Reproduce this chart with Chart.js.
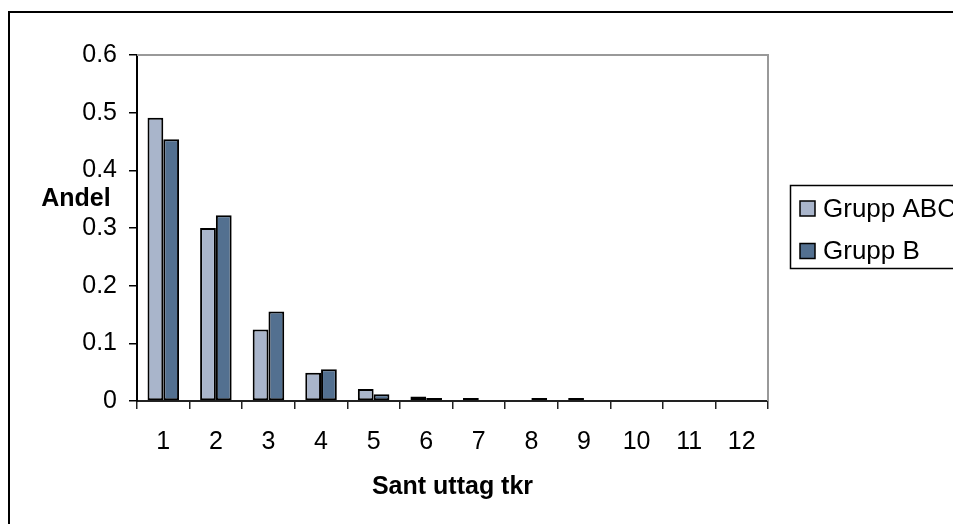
<!DOCTYPE html>
<html>
<head>
<meta charset="utf-8">
<script src="https://cdn.jsdelivr.net/npm/chart.js@4/dist/chart.umd.min.js"></script>
<style>
  html, body { margin: 0; padding: 0; background: #fff; }
  #wrap { width: 953px; height: 524px; position: relative; }
</style>
</head>
<body>
<div id="wrap"><canvas id="chart" width="953" height="524"></canvas></div>
<script>
// Chart data
const categories = ['1', '2', '3', '4', '5', '6', '7', '8', '9', '10', '11', '12'];
const grupABC = [0.491, 0.300, 0.124, 0.049, 0.021, 0.008, 0.005, 0, 0.005, 0, 0, 0];
const grupB = [0.454, 0.322, 0.155, 0.055, 0.0115, 0.005, 0, 0.005, 0, 0, 0, 0];
const seriesNames = ['Grupp ABC', 'Grupp B'];
const seriesColors = ['#a9b5cb', '#537090'];
const yTitle = 'Andel';
const xTitle = 'Sant uttag tkr';

const FONT = 'Arial, "Liberation Sans", sans-serif';
Chart.defaults.color = '#000';
Chart.defaults.font.family = FONT;

// Frame, plot border, "Andel" label and legend box
const decorations = {
    id: 'decorations',
    afterDraw(chart) {
        const ctx = chart.ctx;
        const area = chart.chartArea;
        ctx.save();
        // outer frame (runs off the right and bottom edges)
        ctx.strokeStyle = '#000';
        ctx.lineWidth = 2;
        ctx.beginPath();
        ctx.moveTo(9, 530);
        ctx.lineTo(9, 12);
        ctx.lineTo(960, 12);
        ctx.stroke();
        // gray top and right of plot area
        ctx.strokeStyle = '#999';
        ctx.lineWidth = 2;
        ctx.beginPath();
        ctx.moveTo(area.left, area.top);
        ctx.lineTo(area.right, area.top);
        ctx.lineTo(area.right, area.bottom);
        ctx.stroke();
        // y title, horizontal
        ctx.fillStyle = '#000';
        ctx.font = 'bold 25px ' + FONT;
        ctx.textAlign = 'center';
        ctx.textBaseline = 'middle';
        ctx.fillText(yTitle, 76, 199);
        // legend
        ctx.strokeStyle = '#000';
        ctx.lineWidth = 1.5;
        ctx.strokeRect(790.5, 185.5, 200, 83);
        ctx.font = '26px ' + FONT;
        ctx.textAlign = 'left';
        chart.data.datasets.forEach((ds, i) => {
            const y = 208.5 + i * 42.5;
            ctx.fillStyle = ds.backgroundColor;
            ctx.fillRect(800, y - 7.5, 15, 15);
            ctx.strokeStyle = '#000';
            ctx.lineWidth = 1.5;
            ctx.strokeRect(800, y - 7.5, 15, 15);
            ctx.fillStyle = '#000';
            ctx.fillText(ds.label, 823, y + 1);
        });
        ctx.restore();
    }
};

new Chart(document.getElementById('chart'), {
    type: 'bar',
    data: {
        labels: categories,
        datasets: [
            {
                label: seriesNames[0],
                data: grupABC,
                backgroundColor: seriesColors[0],
                borderColor: '#000',
                borderWidth: 2,
                borderSkipped: false,
                categoryPercentage: 0.6,
                barPercentage: 1.0
            },
            {
                label: seriesNames[1],
                data: grupB,
                backgroundColor: seriesColors[1],
                borderColor: '#000',
                borderWidth: 2,
                borderSkipped: false,
                categoryPercentage: 0.6,
                barPercentage: 1.0
            }
        ]
    },
    options: {
        responsive: false,
        animation: false,
        layout: { padding: { left: 0, right: 185, top: 55, bottom: 0 } },
        plugins: {
            legend: { display: false },
            tooltip: { enabled: false }
        },
        scales: {
            x: {
                grid: {
                    offset: true,
                    drawOnChartArea: false,
                    drawTicks: true,
                    tickLength: 8,
                    color: '#222',
                    lineWidth: 1.5
                },
                border: { color: '#222', width: 2 },
                ticks: { font: { size: 25 }, padding: 18, maxRotation: 0 },
                title: {
                    display: true,
                    text: xTitle,
                    font: { size: 25, weight: 'bold' },
                    padding: { top: 22, bottom: 22 }
                },
                afterFit(scale) { scale.height = 123; }
            },
            y: {
                min: 0,
                max: 0.6,
                ticks: {
                    stepSize: 0.1,
                    font: { size: 25 },
                    padding: 12,
                    callback: v => String(Math.round(v * 10) / 10)
                },
                grid: {
                    drawOnChartArea: false,
                    drawTicks: true,
                    tickLength: 8,
                    color: '#000',
                    lineWidth: 1.5
                },
                border: { color: '#000', width: 2 },
                afterFit(scale) { scale.width = 137; }
            }
        }
    },
    plugins: [decorations]
});
</script>
</body>
</html>
